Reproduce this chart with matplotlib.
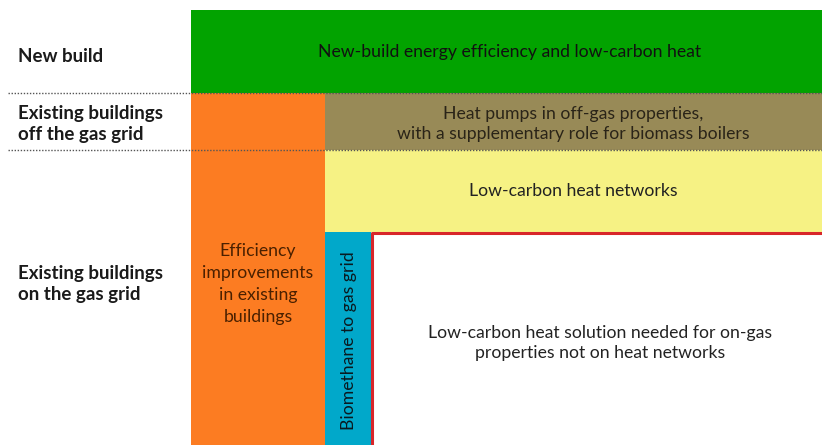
'''Heat decarbonisation options by building type (block diagram)'''
import matplotlib.pyplot as plt
from matplotlib.patches import Rectangle

plt.rcParams['font.family'] = ['Lato', 'DejaVu Sans']

# row labels on the left
row_labels = ['New build',
              'Existing buildings\noff the gas grid',
              'Existing buildings\non the gas grid']
row_label_y = [56, 124, 284]

# blocks: text, extent (x0, x1, y0, y1) in diagram units, fill colour
block_text = ['New-build energy efficiency and low-carbon heat',
              'Efficiency\nimprovements\nin existing\nbuildings',
              'Heat pumps in off-gas properties,\nwith a supplementary role for biomass boilers',
              'Low-carbon heat networks',
              'Biomethane to gas grid',
              'Low-carbon heat solution needed for on-gas\nproperties not on heat networks']
block_x0 = [191, 191, 325, 325, 325, 371]
block_x1 = [822, 325, 822, 822, 371, 822]
block_y0 = [10, 93, 93, 150, 232, 232]
block_y1 = [93, 445, 150, 232, 445, 445]
block_color = ['#02a300', '#fc7c22', '#988a57', '#f6f284', '#01a8ca', 'white']
block_text_color = ['#111111', '#4a2000', '#2a2418', '#222222', '#0a1a20', '#222222']
block_rot = [0, 0, 0, 0, 90, 0]

divider_y = [93, 150]

W, H = 822, 445


def run():
    fig = plt.figure(figsize=(W / 100, H / 100), dpi=100)
    ax = fig.add_axes([0, 0, 1, 1])
    ax.set_xlim(0, W)
    ax.set_ylim(H, 0)
    ax.axis('off')

    for i in range(len(block_text)):
        x0, x1, y0, y1 = block_x0[i], block_x1[i], block_y0[i], block_y1[i]
        ax.add_patch(Rectangle((x0, y0), x1 - x0, y1 - y0,
                               facecolor=block_color[i], edgecolor='none', zorder=1))
        cx = (x0 + x1) / 2
        cy = (y0 + y1) / 2
        if i == 0:
            cx = 510
        if i == 1:
            cx, cy = 258, 284
        if i == 2:
            cy = 124
        if i == 4:
            cx, cy = 349, 341
        if i == 5:
            cx, cy = 600, 343
        ax.text(cx, cy, block_text[i], ha='center', va='center',
                rotation=block_rot[i], fontsize=12.7, color=block_text_color[i],
                linespacing=1.28 if i != 1 else 1.45, zorder=3)

    # red outline on the unresolved block
    ax.plot([block_x0[5] + 1, block_x0[5] + 1, W], [H, block_y0[5] + 1, block_y0[5] + 1],
            color='#d8262a', lw=2.2, zorder=2, solid_capstyle='butt')

    for y in divider_y:
        ax.plot([8, W], [y, y], color='#555555', lw=1, ls=(0, (1, 1.2)), zorder=4)

    for lab, y in zip(row_labels, row_label_y):
        ax.text(18, y, lab, ha='left', va='center', fontsize=13.5,
                fontweight='bold', color='#1a1a1a', linespacing=1.22)

    fig.savefig('out.png', dpi=100)


if __name__ == '__main__':
    run()
